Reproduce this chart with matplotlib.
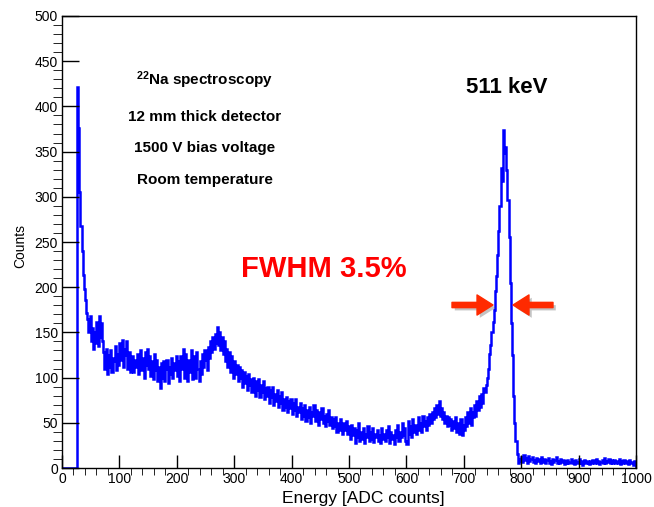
import numpy as np
import matplotlib
matplotlib.use("Agg")
import matplotlib.pyplot as plt
from matplotlib import patheffects

plt.rcParams["font.family"] = ["Liberation Sans", "DejaVu Sans"]
plt.rcParams["mathtext.fontset"] = "custom"
plt.rcParams["mathtext.rm"] = "Liberation Sans:bold"
plt.rcParams["mathtext.default"] = "rm"

# Histogram binning: 2 ADC counts per bin from 0 to 1000
bin_edges = np.arange(0, 1002, 2)

# Counts per bin (one row = 40 ADC counts)
counts = [
    0, 0, 0, 0, 0, 0, 0, 0, 0, 0, 0, 0, 0, 422, 376, 305, 268, 240, 214, 198,
    186, 172, 165, 150, 168, 140, 155, 132, 150, 138, 162, 135, 168, 145, 160, 140, 128, 110, 132, 104,
    125, 112, 130, 106, 122, 118, 135, 108, 126, 114, 138, 120, 142, 112, 132, 125, 140, 110, 128, 106,
    118, 124, 106, 120, 112, 126, 104, 118, 130, 108, 122, 100, 128, 114, 132, 110, 124, 102, 118, 98,
    126, 108, 120, 96, 112, 88, 116, 100, 118, 96, 110, 120, 94, 112, 104, 122, 100, 116, 108, 124,
    102, 118, 96, 124, 110, 132, 100, 126, 112, 96, 120, 106, 130, 98, 116, 124, 100, 128, 110, 96,
    118, 104, 126, 112, 130, 120, 108, 134, 122, 140, 128, 145, 132, 148, 138, 156, 136, 150, 130, 145,
    126, 140, 118, 132, 112, 128, 106, 124, 110, 100, 118, 104, 114, 96, 112, 100, 108, 90, 106, 94,
    102, 86, 104, 92, 98, 84, 100, 88, 80, 96, 86, 98, 78, 92, 84, 96, 76, 88, 80, 90,
    72, 86, 78, 90, 70, 82, 74, 86, 68, 80, 72, 84, 64, 76, 68, 78, 62, 74, 66, 76,
    60, 72, 64, 76, 58, 68, 62, 72, 54, 66, 58, 70, 52, 64, 56, 68, 50, 62, 58, 70,
    52, 64, 56, 48, 62, 54, 66, 50, 58, 46, 60, 52, 64, 48, 56, 44, 54, 46, 56, 40,
    50, 42, 54, 44, 38, 50, 42, 52, 38, 46, 40, 32, 48, 36, 44, 28, 42, 34, 50, 30,
    40, 32, 44, 28, 38, 34, 46, 30, 40, 32, 44, 29, 38, 34, 42, 30, 36, 28, 44, 32,
    38, 30, 42, 34, 46, 28, 40, 32, 36, 27, 42, 34, 48, 30, 40, 34, 50, 36, 44, 30,
    26, 52, 38, 46, 34, 54, 40, 48, 38, 44, 56, 42, 50, 40, 58, 46, 52, 42, 56, 48,
    60, 50, 62, 54, 66, 56, 70, 60, 74, 58, 66, 54, 62, 50, 58, 46, 56, 48, 54, 42,
    52, 44, 56, 40, 50, 46, 38, 54, 36, 48, 42, 56, 46, 62, 50, 66, 48, 62, 56, 70,
    58, 74, 64, 80, 68, 82, 72, 88, 84, 92, 100, 110, 126, 136, 150, 162, 175, 196, 212, 236,
    262, 290, 332, 318, 374, 348, 355, 330, 296, 255, 205, 160, 125, 80, 50, 30, 16, 6, 10, 8,
    12, 7, 14, 9, 11, 6, 13, 8, 10, 12, 7, 9, 5, 11, 8, 10, 6, 12, 9, 7,
    10, 5, 9, 11, 6, 8, 4, 10, 7, 9, 12, 6, 8, 5, 10, 7, 9, 4, 8, 6,
    9, 5, 7, 10, 6, 8, 4, 9, 7, 5, 10, 6, 8, 3, 7, 9, 5, 8, 6, 4,
    8, 6, 9, 5, 7, 10, 6, 8, 4, 7, 9, 5, 11, 6, 8, 7, 10, 5, 9, 6,
    7, 9, 5, 8, 6, 10, 4, 8, 6, 9, 5, 7, 8, 4, 9, 6, 7, 3, 8, 5,
]

info_lines = [r"$^{22}$Na spectroscopy", "12 mm thick detector",
              "1500 V bias voltage", "Room temperature"]
peak_label = "511 keV"
fwhm_label = "FWHM 3.5%"

W, H = 654, 507


def fig_xy(px, py):
    """
    Converts pixel position (from top left) to figure fraction
    """
    return px / W, 1 - py / H


fig = plt.figure(figsize=(W / 100, H / 100), dpi=100)
ax = fig.add_axes([62 / W, 39 / H, 574 / W, 452 / H])

# Spectrum as a step histogram
ax.stairs(counts, bin_edges, color="#0000ff", lw=1.8)

ax.set_xlim(0, 1000)
ax.set_ylim(0, 500)
ax.set_xticks(np.arange(0, 1001, 100))
ax.set_xticks(np.arange(0, 1001, 20), minor=True)
ax.set_yticks(np.arange(0, 501, 50))
ax.set_yticks(np.arange(0, 501, 10), minor=True)
ax.tick_params(direction="in", top=False, right=False, labelsize=10,
               width=1, colors="black")
ax.tick_params(axis="x", which="major", length=9.5, pad=3)
ax.tick_params(axis="x", which="minor", length=5)
ax.tick_params(axis="y", which="major", length=12.5, pad=3)
ax.tick_params(axis="y", which="minor", length=6.5)
for spine in ax.spines.values():
    spine.set_linewidth(1)

fig.text(*fig_xy(363, 503), "Energy [ADC counts]", ha="center",
         va="baseline", fontsize=12.5)
fig.text(*fig_xy(20, 246), "Counts", rotation=90, ha="center",
         va="center", fontsize=10)

# Annotation texts
for text, base in zip(info_lines, [85, 121, 152, 184]):
    fig.text(*fig_xy(205, base), text, ha="center", va="baseline",
             fontsize=11, fontweight="bold")
fig.text(*fig_xy(507, 93), peak_label, ha="center", va="baseline",
         fontsize=16, fontweight="bold")
fig.text(*fig_xy(324, 277), fwhm_label, ha="center", va="baseline",
         fontsize=21, fontweight="bold", color="#ff0000")

# Red arrows marking the FWHM
shadow = [patheffects.SimplePatchShadow(offset=(2, -2), alpha=0.35,
                                        shadow_rgbFace="#555555"),
          patheffects.Normal()]
arrow_style = "simple,head_length=1.15,head_width=1.45,tail_width=0.38"
for tail, tip in [((452, 305), (493, 305)), ((553, 305), (513, 305))]:
    ax.annotate("", xy=fig_xy(*tip), xytext=fig_xy(*tail),
                xycoords="figure fraction", textcoords="figure fraction",
                arrowprops=dict(arrowstyle=arrow_style, mutation_scale=10,
                                color="#ff2a00", shrinkA=0, shrinkB=0,
                                path_effects=shadow))

fig.savefig("out.png", dpi=100)
